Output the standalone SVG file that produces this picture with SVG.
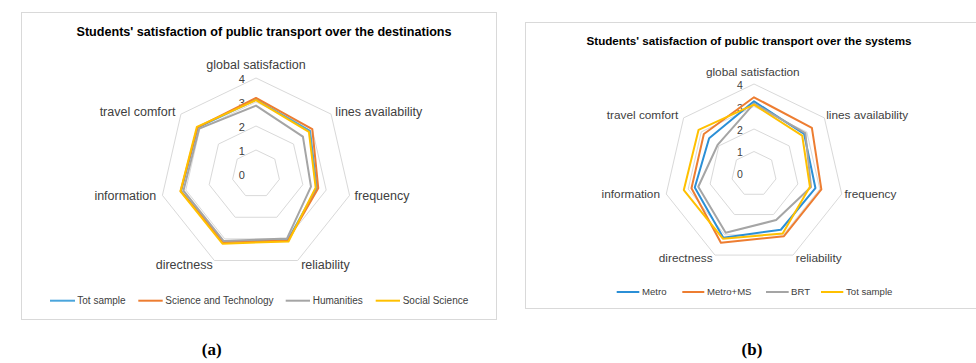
<svg xmlns="http://www.w3.org/2000/svg" width="976" height="363" viewBox="0 0 976 363">
<style>
.frame{fill:#fff;stroke:#d9d9d9;stroke-width:1}
.grid{fill:none;stroke:#d9d9d9;stroke-width:1}
.ser{fill:none;stroke-width:2;stroke-linejoin:round}
.leg{stroke-width:2}
.blueA{stroke:#4aa5dc}
.blueB{stroke:#2b8fd6}
.orange{stroke:#ed7d31}
.gray{stroke:#a5a5a5}
.yellow{stroke:#ffc000}
text{font-family:"Liberation Sans",Arial,sans-serif;fill:#404040}
.title{font-weight:bold;fill:#000}
.tick{fill:#404040;text-anchor:middle}
.cat{text-anchor:middle}
.lt{fill:#404040}
.cap{font-family:"Liberation Serif","Times New Roman",serif;font-weight:bold;font-size:17px;fill:#000;text-anchor:middle}
</style>
<rect width="976" height="363" fill="#fff"/>

<g id="chart-a">
<rect class="frame" x="21.5" y="12.5" width="475" height="307"/>
<text class="title" x="264" y="36" font-size="12" text-anchor="middle" textLength="375" lengthAdjust="spacingAndGlyphs">Students' satisfaction of public transport over the destinations</text>
<g id="grid-a">
<polygon class="grid" points="256,150 274.76,159.04 279.40,179.34 266.41,195.62 245.59,195.62 232.60,179.34 237.24,159.04"/>
<polygon class="grid" points="256,126 293.53,144.07 302.80,184.68 276.83,217.25 235.17,217.25 209.20,184.68 218.47,144.07"/>
<polygon class="grid" points="256,102 312.29,129.11 326.19,190.02 287.24,238.87 224.76,238.87 185.81,190.02 199.71,129.11"/>
<polygon class="grid" points="256,78 331.05,114.14 349.59,195.36 297.65,260.50 214.35,260.50 162.41,195.36 180.95,114.14"/>
</g>
<g id="ticks-a" font-size="11">
<text class="tick" x="241.7" y="83">4</text>
<text class="tick" x="241.7" y="107">3</text>
<text class="tick" x="241.7" y="131">2</text>
<text class="tick" x="241.7" y="155">1</text>
<text class="tick" x="241.7" y="179">0</text>
</g>
<g id="series-a">
<polygon class="ser blueA" points="256,99.6 310.04,130.90 316.83,187.88 287.76,239.95 223.41,241.68 181.13,191.09 197.83,127.61"/>
<polygon class="ser orange" points="256,97.92 312.29,129.11 318.24,188.20 288.07,240.60 223.20,242.12 180.66,191.19 197.46,127.31"/>
<polygon class="ser gray" points="256,105.6 302.91,136.59 310.98,186.55 287.03,238.44 223.72,241.03 183.47,190.55 199.15,128.66"/>
<polygon class="ser yellow" points="256,100.08 308.91,131.80 315.66,187.62 288.49,241.47 222.47,243.63 180.43,191.25 196.90,126.86"/>
</g>
<g id="cats-a" font-size="12.5">
<text class="cat" x="256" y="69">global satisfaction</text>
<text class="cat" x="378.8" y="115.5">lines availability</text>
<text class="cat" x="382" y="200">frequency</text>
<text class="cat" x="325.5" y="269">reliability</text>
<text class="cat" x="184.2" y="269">directness</text>
<text class="cat" x="125.3" y="200">information</text>
<text class="cat" x="137.5" y="115.5">travel comfort</text>
</g>
<g id="legend-a" font-size="10">
<line class="leg blueA" x1="50" y1="300.7" x2="75" y2="300.7"/>
<text class="lt" x="77.3" y="304.3">Tot sample</text>
<line class="leg orange" x1="138.3" y1="300.7" x2="162.7" y2="300.7"/>
<text class="lt" x="165.3" y="304.3">Science and Technology</text>
<line class="leg gray" x1="285.7" y1="300.7" x2="310" y2="300.7"/>
<text class="lt" x="312.7" y="304.3">Humanities</text>
<line class="leg yellow" x1="375.7" y1="300.7" x2="400" y2="300.7"/>
<text class="lt" x="402.7" y="304.3">Social Science</text>
</g>
</g>

<g id="chart-b">
<rect class="frame" x="525.5" y="22.5" width="460" height="286"/>
<text class="title" x="749" y="44.5" font-size="10.5" text-anchor="middle" textLength="325" lengthAdjust="spacingAndGlyphs">Students' satisfaction of public transport over the systems</text>
<g id="grid-b">
<polygon class="grid" points="754,151.5 771.59,159.97 775.94,179.01 763.76,194.27 744.24,194.27 732.06,179.01 736.41,159.97"/>
<polygon class="grid" points="754,129 789.18,145.94 797.87,184.01 773.53,214.55 734.47,214.55 710.13,184.01 718.82,145.94"/>
<polygon class="grid" points="754,106.5 806.77,131.91 819.81,189.02 783.29,234.82 724.71,234.82 688.19,189.02 701.23,131.91"/>
<polygon class="grid" points="754,84 824.36,117.88 841.74,194.03 793.05,255.09 714.95,255.09 666.26,194.03 683.64,117.88"/>
</g>
<g id="ticks-b" font-size="10.5">
<text class="tick" x="740" y="89">4</text>
<text class="tick" x="740" y="111.5">3</text>
<text class="tick" x="740" y="134">2</text>
<text class="tick" x="740" y="155.5">1</text>
<text class="tick" x="740" y="178">0</text>
</g>
<g id="series-b">
<polygon class="ser blueB" points="754,101.32 804.14,134.02 815.42,188.02 780.85,229.75 723.34,237.66 694.78,187.52 709.14,138.22"/>
<polygon class="ser orange" points="754,97.27 811.88,127.84 821.35,189.37 783.97,236.24 720.90,242.73 691.48,188.27 703.86,134.02"/>
<polygon class="ser gray" points="754,103.57 805.36,133.04 811.03,187.02 776.16,220.02 725.69,232.79 698.28,186.72 717.58,144.96"/>
<polygon class="ser yellow" points="754,104.7 802.20,135.56 809.94,186.77 782.70,233.60 722.85,238.67 683.81,190.02 698.59,129.81"/>
</g>
<g id="cats-b" font-size="11.8">
<text class="cat" x="752.8" y="76">global satisfaction</text>
<text class="cat" x="867.2" y="119">lines availability</text>
<text class="cat" x="870.5" y="197.5">frequency</text>
<text class="cat" x="818.7" y="261.7">reliability</text>
<text class="cat" x="685.7" y="261.7">directness</text>
<text class="cat" x="630.8" y="197.5">information</text>
<text class="cat" x="642.5" y="119">travel comfort</text>
</g>
<g id="legend-b" font-size="9.6">
<line class="leg blueB" x1="616.7" y1="292" x2="639.3" y2="292"/>
<text class="lt" x="642" y="295.4">Metro</text>
<line class="leg orange" x1="682.3" y1="292" x2="704.3" y2="292"/>
<text class="lt" x="707" y="295.4">Metro+MS</text>
<line class="leg gray" x1="766" y1="292" x2="788.7" y2="292"/>
<text class="lt" x="791" y="295.4">BRT</text>
<line class="leg yellow" x1="821" y1="292" x2="843.3" y2="292"/>
<text class="lt" x="846" y="295.4">Tot sample</text>
</g>
</g>

<text class="cap" x="211.7" y="355">(a)</text>
<text class="cap" x="752" y="355">(b)</text>
</svg>
